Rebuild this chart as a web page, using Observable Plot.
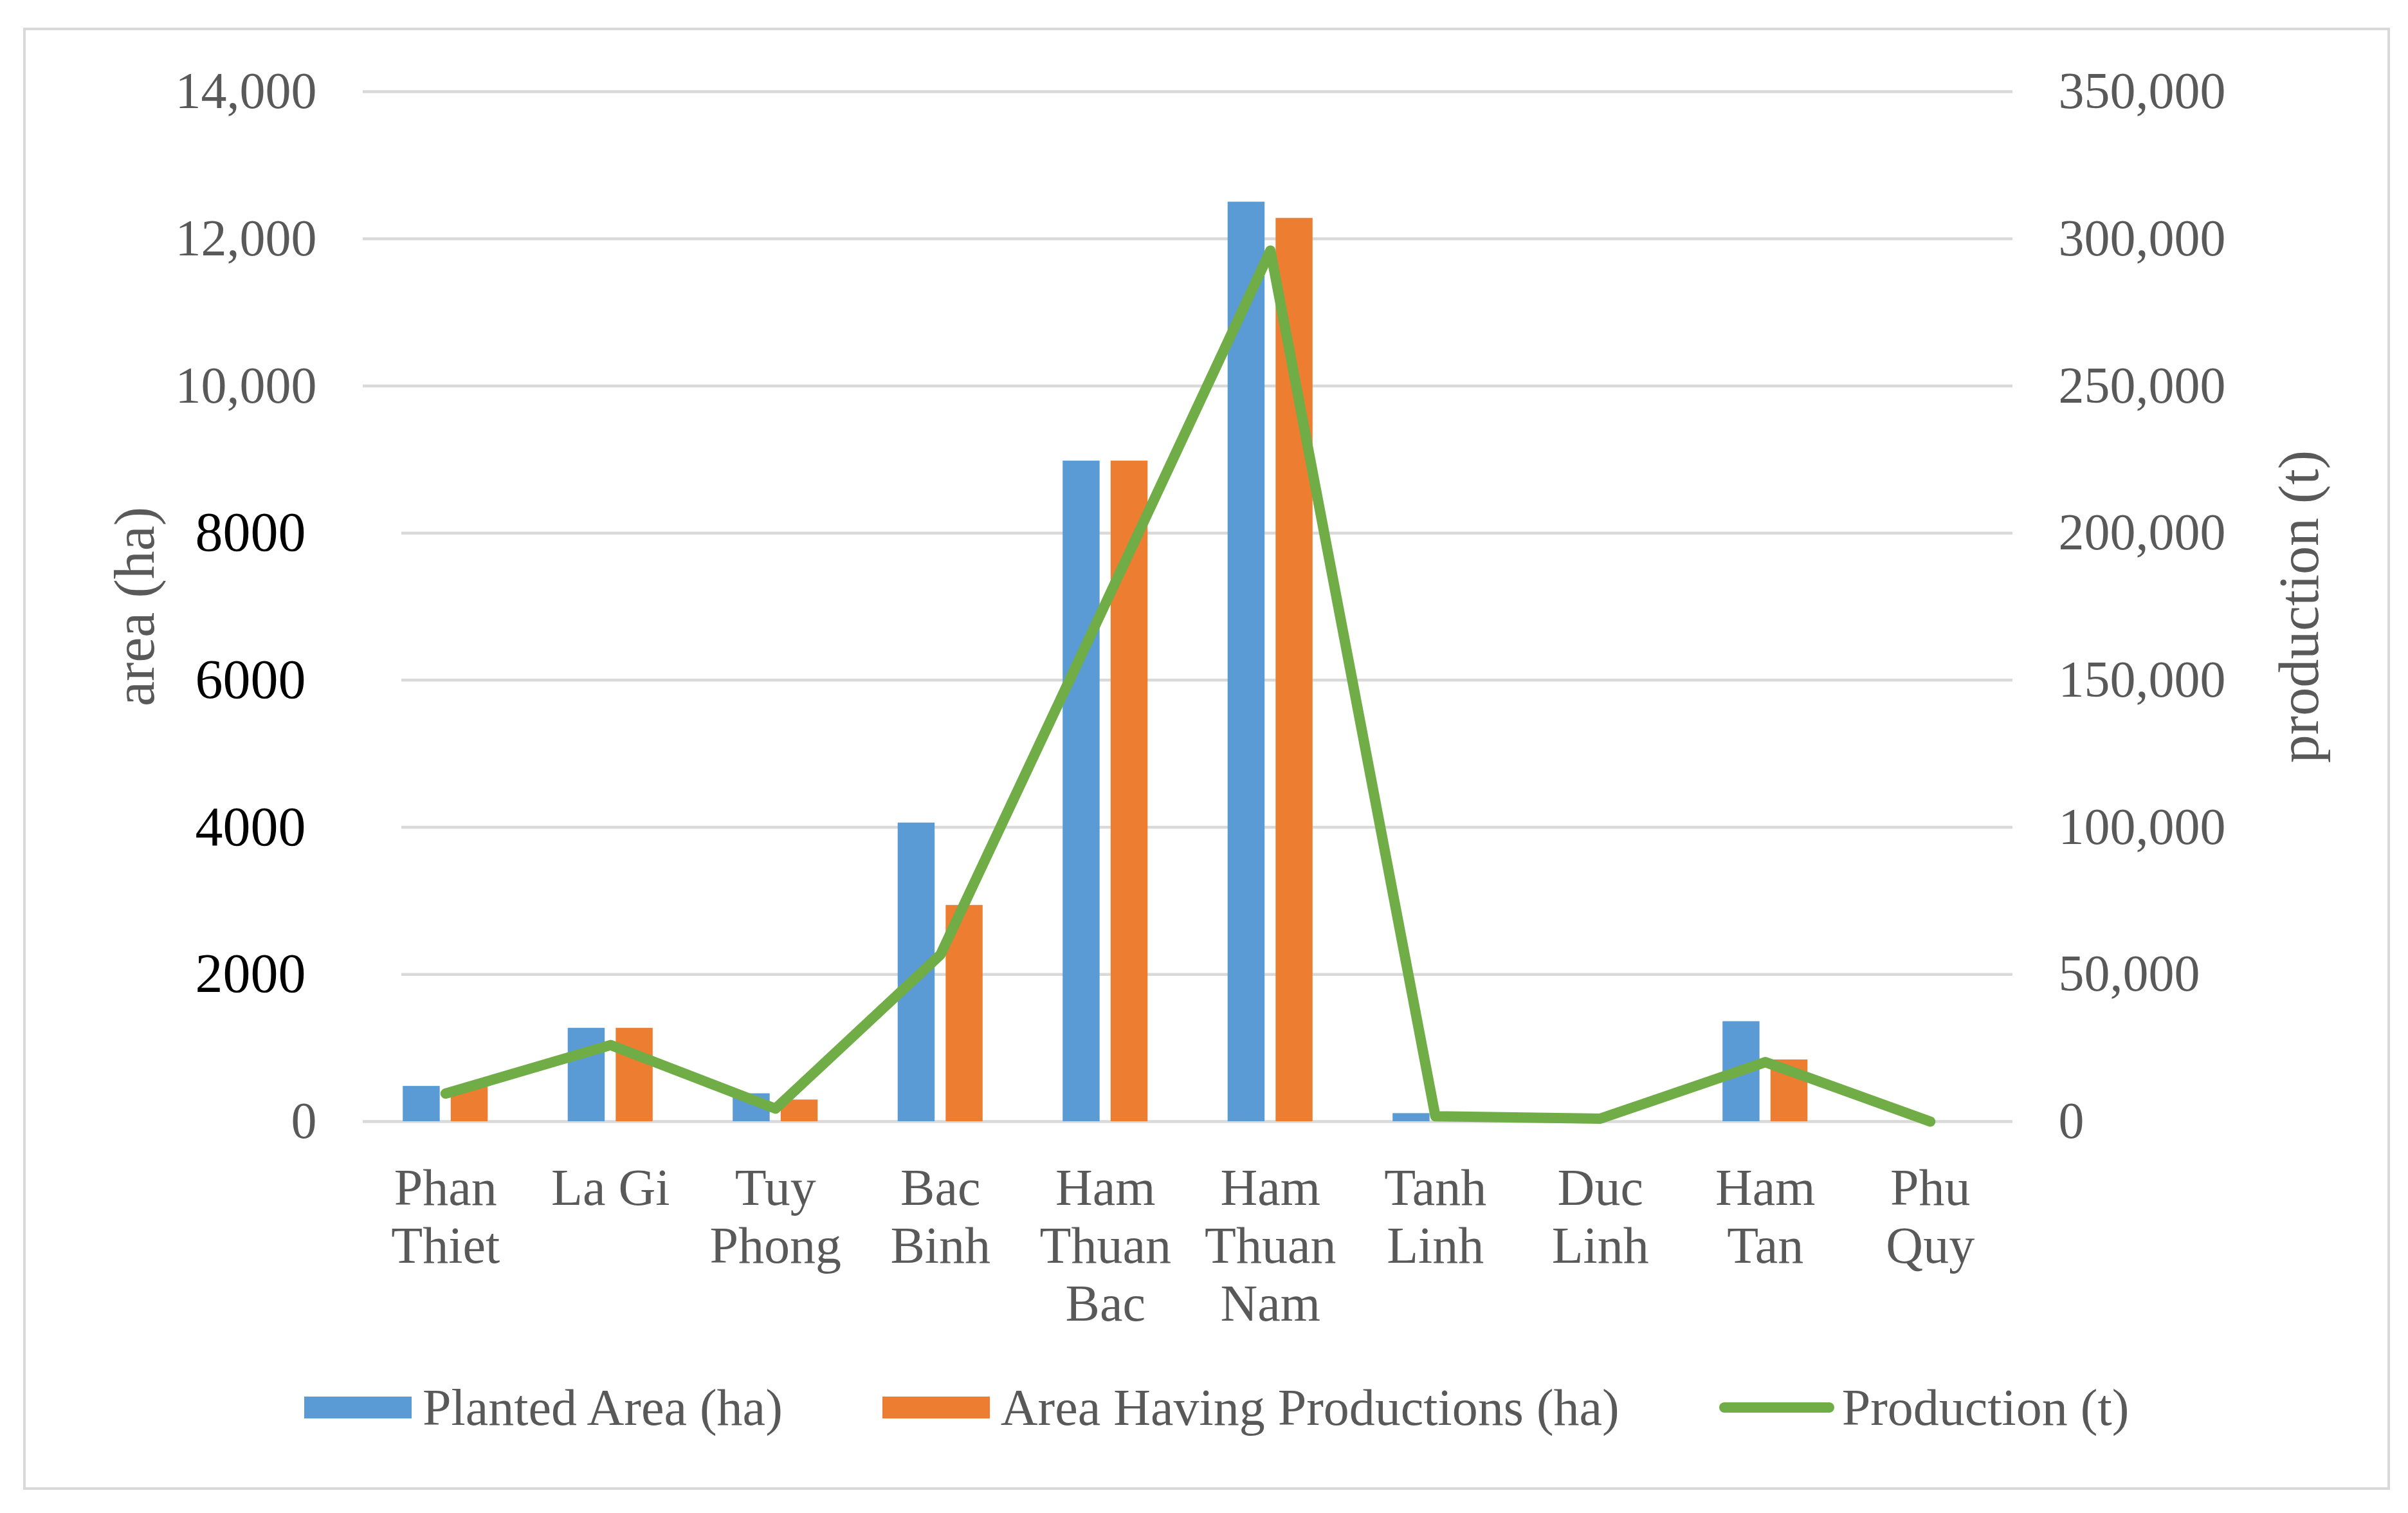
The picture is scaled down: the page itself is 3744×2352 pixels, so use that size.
<!DOCTYPE html>
<html>
<head>
<meta charset="utf-8">
<script src="https://cdn.jsdelivr.net/npm/d3@7"></script>
<script src="https://cdn.jsdelivr.net/npm/@observablehq/plot@0.6"></script>
<style>
html, body { margin: 0; padding: 0; background: #fff; }
body { width: 3744px; height: 2352px; position: relative; overflow: hidden; font-family: "Liberation Serif", "Times New Roman", serif; }
#frame { position: absolute; left: 36px; top: 43px; width: 3680px; height: 2273px; border: 4px solid #d9d9d9; box-sizing: border-box; }
#chart { position: absolute; left: 0; top: 0; }
#legend { position: absolute; left: 473px; top: 2188px; transform: translateY(-50%); display: flex; align-items: center; gap: 155px; font-size: 80px; color: #595959; white-space: nowrap; line-height: 1; }
.item { display: flex; align-items: center; }
.sw { width: 167px; height: 34px; margin-right: 17px; }
.ln { width: 179px; height: 16px; margin-right: 12px; border-radius: 8px; }
</style>
</head>
<body>
<div id="frame"></div>
<div id="chart"></div>
<div id="legend"></div>
<script>
// ---- data ----
const districts = ["Phan Thiet", "La Gi", "Tuy Phong", "Bac Binh", "Ham Thuan Bac", "Ham Thuan Nam", "Tanh Linh", "Duc Linh", "Ham Tan", "Phu Quy"];
const districtLabels = ["Phan\nThiet", "La Gi", "Tuy\nPhong", "Bac\nBinh", "Ham\nThuan\nBac", "Ham\nThuan\nNam", "Tanh\nLinh", "Duc\nLinh", "Ham\nTan", "Phu\nQuy"];
const plantedArea = [480, 1270, 380, 4060, 8980, 12500, 110, 0, 1360, 0];
const areaHavingProduction = [470, 1270, 295, 2940, 8980, 12280, 0, 0, 840, 0];
const production = [9500, 26000, 4400, 56700, 176000, 296000, 1800, 1000, 20200, 0];
const seriesNames = ["Planted Area (ha)", "Area Having Productions (ha)", "Production (t)"];
const seriesColors = ["#5B9BD5", "#ED7D31", "#70AD47"];
const areaTicksComma = [0, 10000, 12000, 14000];
const areaTicksPlain = [2000, 4000, 6000, 8000];
const productionTicks = [0, 50000, 100000, 150000, 200000, 250000, 300000, 350000];
const areaTitle = "area (ha)";
const productionTitle = "production (t)";
const areaMax = 14000;
const productionMax = 350000;

// ---- build ----
const k = productionMax / areaMax;
const rows = districts.map((d, i) => ({
  district: d,
  planted: plantedArea[i],
  having: areaHavingProduction[i],
  production: production[i]
}));
const fmtComma = d3.format(",");
const gray = "#595959";

const chart = Plot.plot({
  width: 3744,
  height: 2120,
  marginLeft: 564,
  marginRight: 615,
  marginTop: 142,
  marginBottom: 377,
  x: { type: "band", domain: districts, paddingInner: 0.776, paddingOuter: 0.388, round: false, axis: null },
  y: { domain: [0, areaMax], axis: null },
  style: { fontFamily: "'Liberation Serif', 'Times New Roman', serif", background: "transparent", overflow: "visible" },
  marks: [
    Plot.ruleY(areaTicksComma, { stroke: "#d9d9d9", strokeWidth: 4.5 }),
    Plot.ruleY(areaTicksPlain, { stroke: "#d9d9d9", strokeWidth: 4.5, insetLeft: 60 }),
    Plot.barY(rows, { x: "district", y: "planted", fill: seriesColors[0], dx: -37.3 }),
    Plot.barY(rows, { x: "district", y: "having", fill: seriesColors[1], dx: 37.3 }),
    Plot.line(rows, { x: "district", y: d => d.production / k, stroke: seriesColors[2], strokeWidth: 16, strokeLinejoin: "round", strokeLinecap: "round" }),
    Plot.text(areaTicksComma, { y: d => d, text: d => fmtComma(d), frameAnchor: "left", textAnchor: "end", dx: -72, fill: gray, fontSize: 80 }),
    Plot.text(areaTicksPlain, { y: d => d, text: d => String(d), frameAnchor: "left", textAnchor: "end", dx: -89, fill: "#000", fontSize: 86 }),
    Plot.text(productionTicks, { y: d => d / k, text: d => fmtComma(d), frameAnchor: "right", textAnchor: "start", dx: 71, fill: gray, fontSize: 80 }),
    Plot.text(districts, { x: d => d, text: (d, i) => districtLabels[i], frameAnchor: "bottom", lineAnchor: "top", dy: 66, lineHeight: 1.125, fill: gray, fontSize: 80 }),
    Plot.text([areaTitle], { text: d => d, frameAnchor: "left", textAnchor: "middle", dx: -354, rotate: -90, fill: gray, fontSize: 88 }),
    Plot.text([productionTitle], { text: d => d, frameAnchor: "right", textAnchor: "middle", dx: 446, rotate: -90, fill: gray, fontSize: 88 })
  ]
});
document.getElementById("chart").appendChild(chart);

// ---- legend ----
const legend = document.getElementById("legend");
seriesNames.forEach((name, i) => {
  const item = document.createElement("div");
  item.className = "item";
  const sw = document.createElement("div");
  sw.className = i === 2 ? "ln" : "sw";
  sw.style.background = seriesColors[i];
  const label = document.createElement("span");
  label.textContent = name;
  item.appendChild(sw);
  item.appendChild(label);
  legend.appendChild(item);
});
</script>
</body>
</html>
